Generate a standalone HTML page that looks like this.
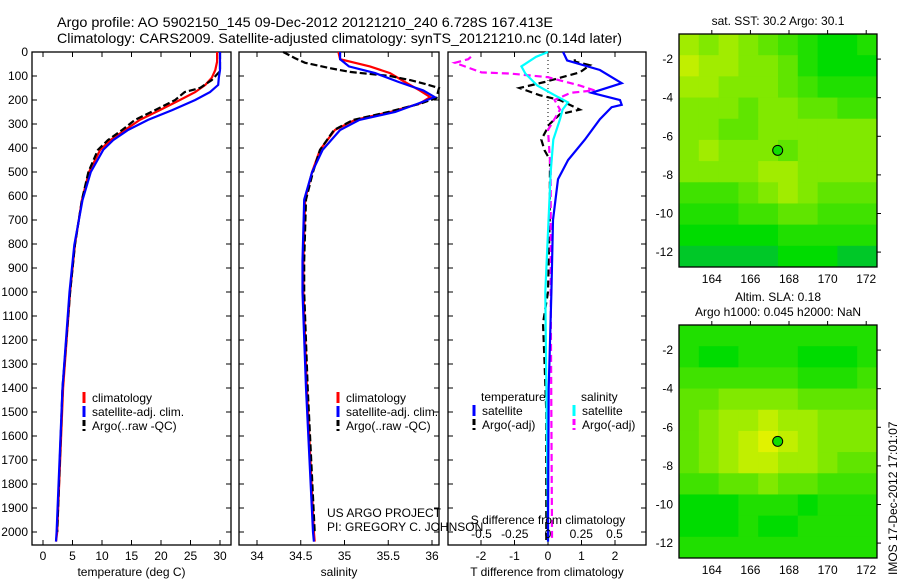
<!DOCTYPE html>
<html><head><meta charset="utf-8"><style>
html,body{margin:0;padding:0;background:#fff}
svg{display:block;font-family:"Liberation Sans",sans-serif}
text{fill:#000}
</style></head><body>
<svg id="fig" width="900" height="580" viewBox="0 0 900 580" xmlns="http://www.w3.org/2000/svg">
<text x="57" y="27" font-size="14" textLength="496" lengthAdjust="spacingAndGlyphs">Argo profile: AO 5902150_145 09-Dec-2012 20121210_240 6.728S 167.413E</text>
<text x="57" y="43" font-size="14" textLength="565" lengthAdjust="spacingAndGlyphs">Climatology: CARS2009. Satellite-adjusted climatology: synTS_20121210.nc (0.14d later)</text>
<g id="p1"></g>
<g id="p2"></g>
<g id="p3"></g>
<g id="m1"></g>
<g id="m2"></g>
<text x="327" y="517" font-size="12">US ARGO PROJECT</text>
<text x="327" y="531" font-size="12">PI: GREGORY C. JOHNSON</text>
<text transform="translate(897,575) rotate(-90)" font-size="12">IMOS 17-Dec-2012 17:01:07</text>
</svg>
<script>
// ---- data ----
const presTemp = [0,40,75,108,137,167,200,242,283,325,367,408,500,617,804,1000,1400,2000,2040];
const tempClim = [29.5,29.5,29.2,28.6,27.5,25.8,23.2,19.8,16.4,13.9,11.4,9.7,7.8,6.6,5.4,4.6,3.4,2.4,2.2];
const tempSat  = [30.0,30.0,30.0,29.8,29.7,28.3,25.8,21.9,17.8,14.4,11.9,10.2,8.1,6.7,5.3,4.5,3.3,2.3,2.2];
const presArgoT = [0,40,80,117,150,167,200,242,283,325,367,408,500,617,804,1000,1400,2000];
const tempArgo = [30.0,30.0,30.0,28.6,26.6,24.0,22.4,19.0,15.6,13.4,11.0,9.3,7.7,6.6,5.4,4.6,3.3,2.4];
const presSal = [0,30,60,88,125,160,188,215,250,283,325,408,500,615,870,1000,1400,2000,2040];
const salClim = [34.93,34.95,35.29,35.52,35.69,35.86,35.98,35.86,35.52,35.12,34.89,34.72,34.63,34.55,34.53,34.53,34.57,34.65,34.66];
const salSat  = [34.95,34.95,35.05,35.35,35.62,35.90,36.03,35.84,35.58,35.17,34.95,34.75,34.63,34.54,34.52,34.52,34.56,34.64,34.65];
const presArgoS = [0,25,45,67,83,100,117,133,150,192,216,250,283,325,408,500,615,870,1000,1400,2000];
const salArgo = [34.3,34.43,34.55,34.83,35.06,35.52,35.75,35.92,36.08,36.05,35.86,35.50,35.10,34.88,34.72,34.64,34.56,34.54,34.54,34.58,34.66];
const presDiff = [0,35,75,130,170,200,220,230,280,365,450,530,700,1000,1400,2000,2040];
const dTsat = [0.45,0.57,1.55,2.2,1.3,2.15,2.2,1.9,1.55,1.1,0.6,0.3,0.15,0.1,0.02,0.0,0.0];
const presDS = [0,20,60,90,140,180,210,240,280,365,500,1000,2000,2040];
const dSsat = [0.0,-0.09,-0.2,-0.17,-0.08,0.05,0.15,0.11,0.09,0.04,0.02,-0.02,0.0,0.0];
const presDSA = [20,30,45,85,90,105,140,160,170,200,240,325,500,1000,2000,2040];
const dSargo = [-0.58,-0.6,-0.7,-0.5,-0.28,0.0,0.24,0.35,0.17,0.05,0.09,0.0,0.02,0.02,0.03,0.03];
const presDTA = [30,40,55,85,125,150,180,200,240,260,300,365,410,450,700,1000,1130,1300,1500,2000,2040];
const dTargo = [0.8,0.8,1.25,0.95,-0.1,-0.85,-0.25,0.35,0.95,0.35,0.05,-0.2,-0.1,0.06,0.05,0.0,-0.15,-0.1,-0.05,-0.05,-0.05];
const depthTicks = [0,100,200,300,400,500,600,700,800,900,1000,1100,1200,1300,1400,1500,1600,1700,1800,1900,2000];
const tTicks = [0,5,10,15,20,25,30];
const sTicks = [34,34.5,35,35.5,36];
const dTTicks = [-2,-1,0,1,2];
const dSTicks = [-0.5,-0.25,0,0.25,0.5];
const dSTickLabels = ["-0.5","-0.25","0","0.25","0.5"];
const lonTicks = [164,166,168,170,172];
const latTicks = [-2,-4,-6,-8,-10,-12];
const argoLon = 167.413, argoLat = -6.728;
const sstGrid = [
[7,6,7,6,5,4,3,2,2,3],
[8,7,7,6,6,5,3,2,2,2],
[7,7,6,6,6,5,4,3,3,3],
[6,6,6,5,6,6,5,5,4,4],
[6,6,5,5,6,6,6,6,6,6],
[6,7,6,6,6,5,6,6,6,6],
[6,6,6,6,7,7,6,6,6,6],
[4,4,4,5,6,7,6,5,5,5],
[3,3,3,4,4,5,5,4,4,4],
[2,2,2,2,2,3,3,3,3,3],
[1,1,1,1,1,2,2,2,1,1]];
const slaGrid = [
[3,3,3,3,3,3,3,3,3,3],
[3,2,2,3,3,3,2,2,2,3],
[4,4,4,4,4,4,3,3,3,4],
[5,5,6,6,6,6,5,5,5,5],
[5,6,7,7,8,7,7,6,6,6],
[5,6,7,8,9,8,7,6,6,6],
[5,6,7,8,8,7,7,6,5,5],
[4,4,5,5,6,5,5,4,4,4],
[2,2,2,3,3,3,2,3,3,3],
[2,2,2,3,2,2,3,3,3,3],
[3,3,3,3,3,3,3,3,3,3]];

// ---- helpers ----
const NS="http://www.w3.org/2000/svg";
function mk(tag,parent,attrs,txt){const e=document.createElementNS(NS,tag);for(const k in attrs)e.setAttribute(k,attrs[k]);if(txt!==undefined)e.textContent=txt;parent.appendChild(e);return e;}
const TOP=52, BOT=545;
const yD = p => TOP + p*0.2400;
function linePath(g,xs,ps,xf,color,dash,name){
  const d=xs.map((v,i)=>(i?'L':'M')+xf(v).toFixed(1)+','+yD(ps[i]).toFixed(1)).join('');
  const e=mk('path',g,{d:d,fill:'none',stroke:color,'stroke-width':2.2});
  if(dash)e.setAttribute('stroke-dasharray',dash);
  
  
}
function frame(g,x0,x1,xf,ticks,labels,title,showY){
  const r=mk('rect',g,{x:x0,y:TOP,width:x1-x0,height:BOT-TOP,fill:'none',stroke:'#000','stroke-width':1.3});
  
  
  depthTicks.forEach(p=>{
    mk('line',g,{x1:x0,x2:x0+5,y1:yD(p),y2:yD(p),stroke:'#000'});
    mk('line',g,{x1:x1,x2:x1-5,y1:yD(p),y2:yD(p),stroke:'#000'});
    if(showY){const t=mk('text',g,{x:x0-4,y:yD(p)+4,'font-size':12,'text-anchor':'end'},String(p));
      
      }
  });
  ticks.forEach((v,i)=>{
    mk('line',g,{x1:xf(v),x2:xf(v),y1:TOP,y2:TOP+5,stroke:'#000'});
    mk('line',g,{x1:xf(v),x2:xf(v),y1:BOT,y2:BOT-5,stroke:'#000'});
    const t=mk('text',g,{x:xf(v),y:560,'font-size':12,'text-anchor':'middle'},labels[i]);
    
    
  });
  const tt=mk('text',g,{x:(x0+x1)/2,y:576,'font-size':12,'text-anchor':'middle'},title);
  
  
}
function legend(g,x,y,entries){
  entries.forEach((en,i)=>{
    const yy=y+i*14;
    const l=mk('line',g,{x1:x,x2:x,y1:yy-10,y2:yy+1,stroke:en[1],'stroke-width':3});
    if(en[2])l.setAttribute('stroke-dasharray','6,3');
    
    
    const t=mk('text',g,{x:x+8,y:yy,'font-size':12},en[0]);
    
    
  });
}

// ---- panel 1 ----
const p1=document.getElementById('p1');
const xT=v=>43+v*5.9;
frame(p1,32,231,xT,tTicks,tTicks.map(String),'temperature (deg C)',true);
linePath(p1,tempClim,presTemp,xT,'#f00',null,'temp-climatology-line');
linePath(p1,tempArgo,presArgoT,xT,'#000','7,3','temp-argo-line');
linePath(p1,tempSat,presTemp,xT,'#00f',null,'temp-satellite-line');
legend(p1,84,402,[['climatology','#f00'],['satellite-adj. clim.','#00f'],['Argo(..raw -QC)','#000',1]]);

// ---- panel 2 ----
const p2=document.getElementById('p2');
const xS=v=>257+(v-34)*87.5;
frame(p2,239,439,xS,sTicks,sTicks.map(String),'salinity',false);
linePath(p2,salClim,presSal,xS,'#f00',null,'sal-climatology-line');
linePath(p2,salArgo,presArgoS,xS,'#000','7,3','sal-argo-line');
linePath(p2,salSat,presSal,xS,'#00f',null,'sal-satellite-line');
legend(p2,338,402,[['climatology','#f00'],['satellite-adj. clim.','#00f'],['Argo(..raw -QC)','#000',1]]);

// ---- panel 3 ----
const p3=document.getElementById('p3');
const xdT=v=>548+v*33.5, xdS=v=>548+v*133;
frame(p3,448,646,xdT,dTTicks,dTTicks.map(String),'T difference from climatology',false);
mk('line',p3,{x1:548,x2:548,y1:TOP,y2:130,stroke:'#000','stroke-dasharray':'1,3'});
linePath(p3,dTargo,presDTA,xdT,'#000','7,4','dT-argo-line');
linePath(p3,dSargo,presDSA,xdS,'#f0f','7,4','dS-argo-line');
linePath(p3,dSsat,presDS,xdS,'#0ff',null,'dS-satellite-line');
linePath(p3,dTsat,presDiff,xdT,'#00f',null,'dT-satellite-line');
dSTicks.forEach((v,i)=>{const t=mk('text',p3,{x:xdS(v),y:538,'font-size':12,'text-anchor':'middle'},dSTickLabels[i]);
  
  });
const st=mk('text',p3,{x:548,y:524,'font-size':12,'text-anchor':'middle'},'S difference from climatology');


const lt1=mk('text',p3,{x:481,y:401,'font-size':12},'temperature');


const lt2=mk('text',p3,{x:581,y:401,'font-size':12},'salinity');


legend(p3,474,415,[['satellite','#00f'],['Argo(-adj)','#000',1]]);
legend(p3,574,415,[['satellite','#0ff'],['Argo(-adj)','#f0f',1]]);

// ---- maps ----
function col(v){
  let r,g,b;
  if(v<2){const f=v/2;r=0;g=Math.round(180+40*f);b=Math.round(80*(1-f));}
  else{const f=(v-2)/7;r=Math.round(225*f);g=Math.round(220+22*f);b=0;}
  return 'rgb('+r+','+g+','+b+')';
}
function map(id,top,grid,t1,t2){
  const g=document.getElementById(id);
  const L=679,R=877,B=top+233;
  const lonL=162.3,latT=-0.7,px=19.3;
  const xL=lo=>L+(lo-lonL)*px, yL=la=>top+(latT-la)*px;
  const rows=grid.length, cols=grid[0].length, cw=(R-L)/cols, ch=(B-top)/rows;
  grid.forEach((row,ri)=>row.forEach((v,ci)=>{
    const c=mk('rect',g,{x:L+ci*cw,y:top+ri*ch,width:cw+0.5,height:ch+0.5,fill:col(v)});
    
    
  }));
  const fr=mk('rect',g,{x:L,y:top,width:R-L,height:B-top,fill:'none',stroke:'#000','stroke-width':1.3});
  
  
  lonTicks.forEach(lo=>{
    mk('line',g,{x1:xL(lo),x2:xL(lo),y1:top,y2:top-4,stroke:'#000'});
    const t=mk('text',g,{x:xL(lo),y:B+16,'font-size':12,'text-anchor':'middle'},String(lo));
    
    
  });
  latTicks.forEach(la=>{
    mk('line',g,{x1:R,x2:R+4,y1:yL(la),y2:yL(la),stroke:'#000'});
    const t=mk('text',g,{x:L-6,y:yL(la)+4,'font-size':12,'text-anchor':'end'},String(la));
    
    
  });
  const m=mk('circle',g,{cx:xL(argoLon),cy:yL(argoLat),r:5,fill:col(2.5),stroke:'#000','stroke-width':1});
  
  
  t1.forEach((s,i)=>{const t=mk('text',g,{x:(L+R)/2,y:s[1],'font-size':12,'text-anchor':'middle'},s[0]);
    
    });
}
map('m1',34,sstGrid,[['sat. SST: 30.2 Argo: 30.1',25]]);
map('m2',325,slaGrid,[['Altim. SLA: 0.18',301],['Argo h1000: 0.045 h2000: NaN',316]]);
</script>
</body></html>
